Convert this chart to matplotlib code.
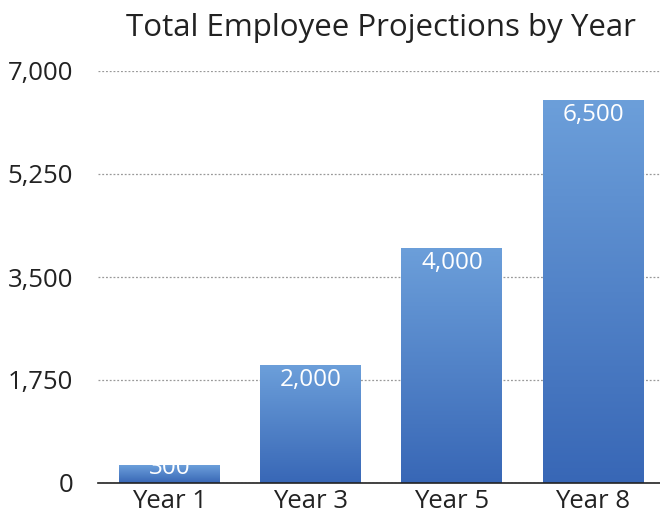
import matplotlib
matplotlib.use("Agg")
import matplotlib.pyplot as plt
import numpy as np
from matplotlib.colors import LinearSegmentedColormap
from matplotlib.ticker import FuncFormatter
from matplotlib.patches import Rectangle

categories = ["Year 1", "Year 3", "Year 5", "Year 8"]
values = [300, 2000, 4000, 6500]
yticks = [0, 1750, 3500, 5250, 7000]
title = "Total Employee Projections by Year"

plt.rcParams['font.family'] = ['Open Sans', 'DejaVu Sans']

fig = plt.figure(figsize=(6.6, 5.14), dpi=100)
ax = fig.add_axes([98/660, (514-483)/514, 1 - 98/660, (483-71)/514])

x = np.arange(len(categories))
width = 0.716
cmap = LinearSegmentedColormap.from_list("g", ["#3867b6", "#6c9fda"])
grad = np.linspace(0, 1, 256).reshape(-1, 1)

bars = ax.bar(x, values, width=width, color="none", zorder=2)
for b in bars:
    x0, y0 = b.get_x(), b.get_y()
    w, h = b.get_width(), b.get_height()
    im = ax.imshow(grad, cmap=cmap, origin="lower", aspect="auto",
                   extent=[x0, x0 + w, y0, y0 + h], zorder=2)
    rect = Rectangle((x0, y0), w, h, transform=ax.transData)
    im.set_clip_path(rect)

for xi, v in zip(x, values):
    off = -21 if v > 1000 else -9
    ax.annotate(f"{v:,}", xy=(xi, v), xytext=(0, off * 0.72), textcoords="offset points",
                ha="center", va="baseline", color="white", fontsize=17.5, zorder=3)

ax.set_xlim(-0.51, 3.475)
ax.set_ylim(0, 7000)
ax.set_yticks(yticks)
ax.yaxis.set_major_formatter(FuncFormatter(lambda v, p: f"{int(v):,}"))
ax.set_xticks(x)
ax.set_xticklabels(categories)
ax.tick_params(axis="both", length=0, labelsize=18.5, colors="#222222")
ax.tick_params(axis="y", pad=18)
ax.tick_params(axis="x", pad=4)
ax.grid(axis="y", linestyle=(0, (1.5, 1.5)), color="#999999", linewidth=0.9, zorder=0)
ax.set_axisbelow(True)
for s in ["top", "right", "left"]:
    ax.spines[s].set_visible(False)
ax.spines["bottom"].set_color("#222222")
ax.spines["bottom"].set_linewidth(1.2)
ax.spines["bottom"].set_zorder(4)

fig.text(381/660, 1 - 28/514, title, ha="center", va="center", fontsize=22.5, color="#222222")

fig.savefig("out.png", dpi=100)
